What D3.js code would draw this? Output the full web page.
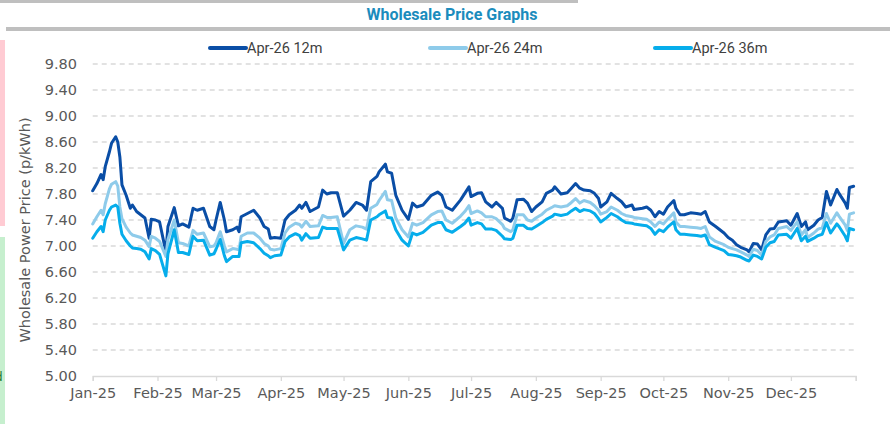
<!DOCTYPE html>
<html>
<head>
<meta charset="utf-8">
<script src="https://cdn.jsdelivr.net/npm/d3@7"></script>
<style>
    body { margin: 0; background: #fff; }
    svg { display: block; }
</style>
</head>
<body>
<svg id="chart" width="890" height="424"></svg>
<script>
const seriesNames = ['Apr-26 12m', 'Apr-26 24m', 'Apr-26 36m'];
const seriesColors = ['#0a4ea6', '#8ecbea', '#06adeb'];
const yTicks = [5.00, 5.40, 5.80, 6.20, 6.60, 7.00, 7.40, 7.80, 8.20, 8.60, 9.00, 9.40, 9.80];

// days after 1 Jan 2025
const dayOffsets = [
    0, 2, 4, 5, 6, 8, 9, 11, 12, 13, 14, 16, 18, 19, 21, 23, 25, 27, 28, 30,
    32, 35, 36, 39, 41, 43, 46, 48, 50, 53, 56, 58, 59, 61, 63, 64, 67, 69, 70, 71,
    74, 77, 80, 82, 84, 85, 87, 90, 92,
    94, 97, 99, 100, 102, 104, 108, 110, 112, 114, 117, 120, 123, 126, 129, 131, 133, 136, 137, 140,
    141, 143, 145, 148, 151, 153, 155, 158, 162, 165, 167, 169, 172, 176,
    178, 180, 181, 184, 186, 188, 191, 193, 196, 197, 200, 201, 203, 206, 208, 210, 212, 215, 217, 220,
    221, 224, 227, 229, 231, 233, 235, 238, 240, 242, 243, 246, 248, 251, 253, 255, 258, 259, 263, 265, 267,
    269, 271, 273, 275, 278, 279, 281, 283, 286, 289, 291, 293, 294, 295, 298, 302, 304, 306, 308, 310,
    313, 314, 316, 318, 320, 322, 324, 326, 328, 332, 334, 337, 339, 341, 342, 345, 347, 349, 351, 353,
    356, 357, 360, 361, 362, 364
];

const price12m = [
    7.85, 7.96, 8.10, 8.02, 8.22, 8.45, 8.58, 8.68, 8.60, 8.37, 7.94, 7.78, 7.58, 7.63, 7.53, 7.48, 7.43, 7.12, 7.41, 7.40,
    7.37, 6.91, 7.30, 7.59, 7.31, 7.34, 7.29, 7.58, 7.55, 7.58, 7.30, 7.25, 7.40, 7.67, 7.40, 7.22, 7.25, 7.29, 7.22, 7.45,
    7.50, 7.55, 7.43, 7.30, 7.26, 7.12, 7.13, 7.12, 7.40,
    7.48, 7.55, 7.63, 7.58, 7.67, 7.53, 7.60, 7.86, 7.80, 7.82, 7.82, 7.46, 7.55, 7.67, 7.63, 7.55, 7.99, 8.07, 8.14, 8.26,
    8.14, 8.12, 7.78, 7.55, 7.41, 7.66, 7.60, 7.63, 7.78, 7.83, 7.78, 7.60, 7.55, 7.71,
    7.81, 7.91, 7.76, 7.81, 7.82, 7.68, 7.60, 7.67, 7.58, 7.43, 7.38, 7.43, 7.71, 7.72, 7.66, 7.53, 7.60, 7.68, 7.81, 7.86,
    7.91, 7.80, 7.82, 7.89, 7.96, 7.89, 7.86, 7.85, 7.81, 7.73, 7.60, 7.68, 7.81, 7.73, 7.68, 7.60, 7.63, 7.56, 7.58, 7.60, 7.55,
    7.45, 7.53, 7.49, 7.60, 7.70, 7.58, 7.48, 7.48, 7.51, 7.50, 7.49, 7.53, 7.45, 7.37, 7.30, 7.20, 7.13, 7.09, 7.02, 6.98,
    6.94, 6.91, 7.04, 7.03, 6.94, 7.17, 7.26, 7.27, 7.37, 7.39, 7.32, 7.50, 7.30, 7.37, 7.25, 7.32, 7.40, 7.44, 7.84, 7.63,
    7.87, 7.81, 7.66, 7.58, 7.90, 7.92
];

const price24m = [
    7.34, 7.45, 7.55, 7.48, 7.65, 7.88, 7.95, 7.99, 7.92, 7.60, 7.42, 7.29, 7.20, 7.17, 7.15, 7.13, 7.09, 6.99, 7.15, 7.12,
    7.07, 6.84, 7.10, 7.40, 7.05, 7.04, 7.00, 7.24, 7.18, 7.20, 6.99, 7.00, 7.05, 7.22, 7.00, 6.91, 6.96, 6.95, 6.94, 7.15,
    7.20, 7.20, 7.12, 7.04, 7.00, 6.95, 6.94, 6.96, 7.20,
    7.29, 7.35, 7.33, 7.29, 7.38, 7.30, 7.31, 7.47, 7.44, 7.44, 7.45, 7.04, 7.25, 7.31, 7.29, 7.26, 7.58, 7.64, 7.70, 7.84,
    7.71, 7.70, 7.43, 7.25, 7.14, 7.35, 7.32, 7.36, 7.48, 7.53, 7.54, 7.40, 7.35, 7.46,
    7.53, 7.62, 7.50, 7.54, 7.51, 7.45, 7.45, 7.42, 7.33, 7.27, 7.22, 7.25, 7.48, 7.48, 7.40, 7.38, 7.43, 7.49, 7.55, 7.60,
    7.62, 7.60, 7.62, 7.67, 7.73, 7.66, 7.70, 7.67, 7.62, 7.55, 7.49, 7.53, 7.60, 7.55, 7.50, 7.47, 7.45, 7.44, 7.42, 7.41, 7.37,
    7.30, 7.37, 7.34, 7.41, 7.51, 7.37, 7.30, 7.30, 7.29, 7.28, 7.27, 7.30, 7.22, 7.14, 7.07, 7.02, 6.98, 6.96, 6.94, 6.91,
    6.86, 6.84, 6.95, 6.93, 6.86, 7.07, 7.14, 7.17, 7.27, 7.30, 7.24, 7.37, 7.17, 7.25, 7.13, 7.20, 7.26, 7.28, 7.50, 7.35,
    7.51, 7.46, 7.32, 7.24, 7.49, 7.51
];

const price36m = [
    7.12, 7.22, 7.30, 7.22, 7.40, 7.55, 7.60, 7.63, 7.60, 7.35, 7.18, 7.08, 7.00, 6.97, 6.96, 6.95, 6.91, 6.80, 6.96, 6.93,
    6.87, 6.54, 6.88, 7.25, 6.90, 6.90, 6.87, 7.15, 7.08, 7.09, 6.86, 6.88, 6.95, 7.10, 6.85, 6.76, 6.84, 6.84, 6.84, 7.05,
    7.07, 7.05, 6.96, 6.89, 6.85, 6.82, 6.85, 6.86, 7.07,
    7.14, 7.19, 7.16, 7.09, 7.19, 7.12, 7.13, 7.29, 7.27, 7.27, 7.27, 6.94, 7.09, 7.13, 7.11, 7.09, 7.40, 7.45, 7.48, 7.54,
    7.44, 7.43, 7.25, 7.09, 7.00, 7.20, 7.17, 7.21, 7.32, 7.36, 7.36, 7.25, 7.21, 7.30,
    7.35, 7.43, 7.32, 7.36, 7.34, 7.26, 7.26, 7.24, 7.15, 7.11, 7.10, 7.12, 7.32, 7.32, 7.27, 7.26, 7.30, 7.36, 7.41, 7.46,
    7.49, 7.47, 7.49, 7.54, 7.58, 7.53, 7.56, 7.54, 7.50, 7.42, 7.37, 7.44, 7.50, 7.45, 7.40, 7.36, 7.35, 7.34, 7.32, 7.31, 7.27,
    7.18, 7.25, 7.22, 7.29, 7.37, 7.25, 7.18, 7.18, 7.17, 7.16, 7.15, 7.17, 7.10, 7.02, 6.98, 6.93, 6.87, 6.86, 6.85, 6.83,
    6.78, 6.77, 6.86, 6.84, 6.80, 6.98, 7.05, 7.07, 7.17, 7.18, 7.12, 7.27, 7.08, 7.15, 7.07, 7.12, 7.16, 7.18, 7.36, 7.20,
    7.34, 7.30, 7.15, 7.08, 7.27, 7.25
];

const start = new Date(2025, 0, 1);
const dates = dayOffsets.map(d => d3.timeDay.offset(start, d));
const allSeries = [price12m, price24m, price36m].map((vals, i) => ({
    name: seriesNames[i],
    color: seriesColors[i],
    points: vals.map((v, j) => ({ date: dates[j], value: v }))
}));

const axisFont = "'DejaVu Sans', sans-serif";
const textGrey = '#595959';

let svg = d3.select('#chart');

// bits of neighbouring cells at the left edge
svg.append('rect').attr('x', 0).attr('y', 40).attr('width', 5).attr('height', 186).attr('fill', '#ffcbd3');
svg.append('rect').attr('x', 0).attr('y', 237).attr('width', 5).attr('height', 187).attr('fill', '#c6efce');
svg.append('text').attr('x', -5).attr('y', 381).attr('font-family', axisFont).attr('font-size', 12)
    .attr('fill', '#1e7a2e').text('d');

// header
svg.append('rect').attr('x', 0).attr('y', 0).attr('width', 578).attr('height', 3).attr('fill', '#bfbfbf');
svg.append('rect').attr('x', 6).attr('y', 27).attr('width', 884).attr('height', 4).attr('fill', '#bfbfbf');
svg.append('text')
    .attr('x', 452).attr('y', 20)
    .attr('text-anchor', 'middle')
    .attr('font-family', 'Roboto, sans-serif')
    .attr('font-weight', 'bold')
    .attr('font-size', 16)
    .attr('fill', '#1b8cbd')
    .text('Wholesale Price Graphs');

let x = d3.scaleTime()
    .domain([new Date(2025, 0, 1), new Date(2026, 0, 1)])
    .range([92.7, 855.7]);

let y = d3.scaleLinear()
    .domain([5, 9.8])
    .range([376, 64]);

// grid
svg.append('g')
    .selectAll('line')
    .data(yTicks.slice(1))
    .enter()
    .append('line')
    .attr('x1', x.range()[0])
    .attr('x2', x.range()[1])
    .attr('y1', d => y(d))
    .attr('y2', d => y(d))
    .attr('stroke', '#d9d9d9')
    .attr('stroke-width', 1.3)
    .attr('stroke-dasharray', '5,4');

// y axis labels
svg.append('g')
    .selectAll('text')
    .data(yTicks)
    .enter()
    .append('text')
    .attr('x', 77)
    .attr('y', d => y(d))
    .attr('dy', '0.36em')
    .attr('text-anchor', 'end')
    .attr('font-family', axisFont)
    .attr('font-size', 14.5)
    .attr('fill', textGrey)
    .text(d => d.toFixed(2));

svg.append('text')
    .attr('transform', 'translate(30,230) rotate(-90)')
    .attr('text-anchor', 'middle')
    .attr('font-family', axisFont)
    .attr('font-size', 14.5)
    .attr('fill', textGrey)
    .text('Wholesale Power Price (p/kWh)');

// x axis
let xAxis = d3.axisBottom(x)
    .ticks(d3.timeMonth.every(1))
    .tickSize(5)
    .tickFormat(d3.timeFormat('%b-%y'));

let gx = svg.append('g')
    .attr('transform', 'translate(0,376)')
    .call(xAxis);
gx.select('.domain').attr('stroke', '#d9d9d9').attr('stroke-width', 1.3);
gx.selectAll('.tick line').attr('stroke', '#d9d9d9').attr('stroke-width', 1.3);
gx.selectAll('.tick text')
    .attr('y', 12)
    .attr('font-family', axisFont)
    .attr('font-size', 14.5)
    .attr('fill', textGrey);
gx.selectAll('.tick').filter(d => d.getFullYear() === 2026).select('text').remove();

// lines
let line = d3.line()
    .x(d => x(d.date))
    .y(d => y(d.value));

svg.append('g')
    .selectAll('path')
    .data(allSeries)
    .enter()
    .append('path')
    .attr('d', d => line(d.points))
    .attr('fill', 'none')
    .attr('stroke', d => d.color)
    .attr('stroke-width', 3)
    .attr('stroke-linejoin', 'round')
    .attr('stroke-linecap', 'round');

// legend
const legendX = [210, 430, 655];
let legend = svg.append('g')
    .selectAll('g')
    .data(allSeries)
    .enter()
    .append('g')
    .attr('transform', (d, i) => 'translate(' + legendX[i] + ',48)');
legend.append('line')
    .attr('x1', 0).attr('x2', 36)
    .attr('stroke', d => d.color)
    .attr('stroke-width', 4)
    .attr('stroke-linecap', 'round');
legend.append('text')
    .attr('x', 37)
    .attr('dy', '0.36em')
    .attr('font-family', 'Roboto, sans-serif')
    .attr('font-size', 14.5)
    .attr('fill', '#404040')
    .text(d => d.name);
</script>
</body>
</html>
